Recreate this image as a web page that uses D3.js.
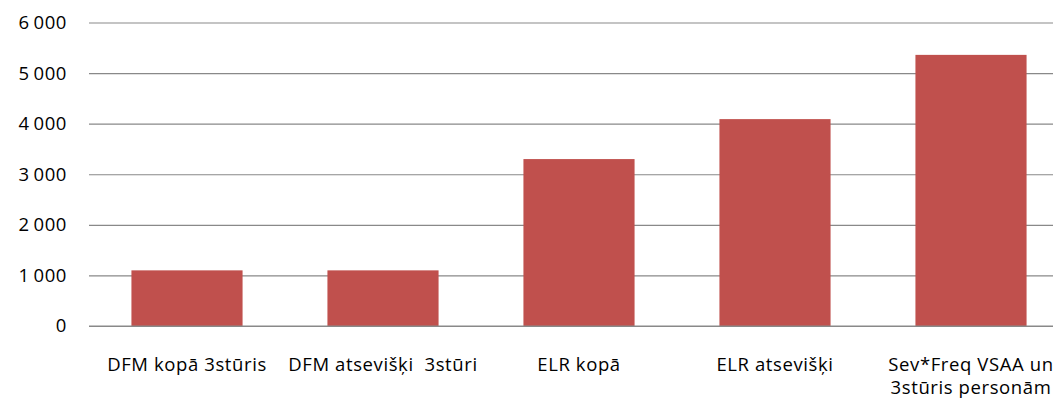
<!DOCTYPE html>
<html><head><meta charset="utf-8">
<script src="https://cdn.jsdelivr.net/npm/d3@7"></script>
<style>body{margin:0;background:#fff}svg{display:block}text{white-space:pre}</style>
</head><body>
<script>
const categories = ["DFM kopā 3stūris", "DFM atsevišķi  3stūri", "ELR kopā", "ELR atsevišķi", "Sev*Freq VSAA un 3stūris personām"];
const labelLines = [["DFM kopā 3stūris"], ["DFM atsevišķi  3stūri"], ["ELR kopā"], ["ELR atsevišķi"], ["Sev*Freq VSAA un", "3stūris personām"]];
const values = [1100, 1100, 3300, 4090, 5360];
const yTicks = [0, 1000, 2000, 3000, 4000, 5000, 6000];

const W = 1053, H = 402;
const mLeft = 89, plotRight = 1069, mTop = 22.5, mBottom = 326;
const svg = d3.select("body").append("svg").attr("width", W).attr("height", H);
const font = "'Open Sans', sans-serif";

const x = d3.scaleBand().domain(categories).range([mLeft, plotRight]).paddingInner(0.433).paddingOuter(0.2165);
const y = d3.scaleLinear().domain([0, 6000]).range([mBottom, mTop]);
const fmt = d3.formatLocale({decimal: ",", thousands: "\u2009", grouping: [3], currency: ["", ""]}).format(",d");

const yAxis = d3.axisLeft(y).tickValues(yTicks).tickSize(-(plotRight - mLeft)).tickPadding(22).tickFormat(fmt);
const gy = svg.append("g").attr("transform", `translate(${mLeft},0)`).call(yAxis);
gy.select(".domain").remove();
gy.selectAll(".tick line").attr("stroke", "#898989").attr("stroke-width", 1.2);
gy.selectAll(".tick text").attr("font-family", font).attr("font-size", 18.5).attr("letter-spacing", 0.6).attr("fill", "#000");

svg.append("g").selectAll("rect").data(values).join("rect")
  .attr("x", (d, i) => x(categories[i]))
  .attr("width", x.bandwidth())
  .attr("y", d => y(d))
  .attr("height", d => y(0) - y(d))
  .attr("fill", "#C0504D");

svg.append("line").attr("x1", mLeft).attr("x2", plotRight).attr("y1", y(0)).attr("y2", y(0))
  .attr("stroke", "#898989").attr("stroke-width", 1.2);

const gl = svg.append("g");
labelLines.forEach((lines, i) => {
  const cx = x(categories[i]) + x.bandwidth() / 2;
  const t = gl.append("text").attr("x", cx).attr("y", 371).attr("text-anchor", "middle")
    .attr("font-family", font).attr("font-size", 18.5).attr("letter-spacing", 0.6).attr("fill", "#000");
  lines.forEach((ln, j) => t.append("tspan").attr("x", cx).attr("dy", j ? 23 : 0).text(ln));
});
</script>
</body></html>
